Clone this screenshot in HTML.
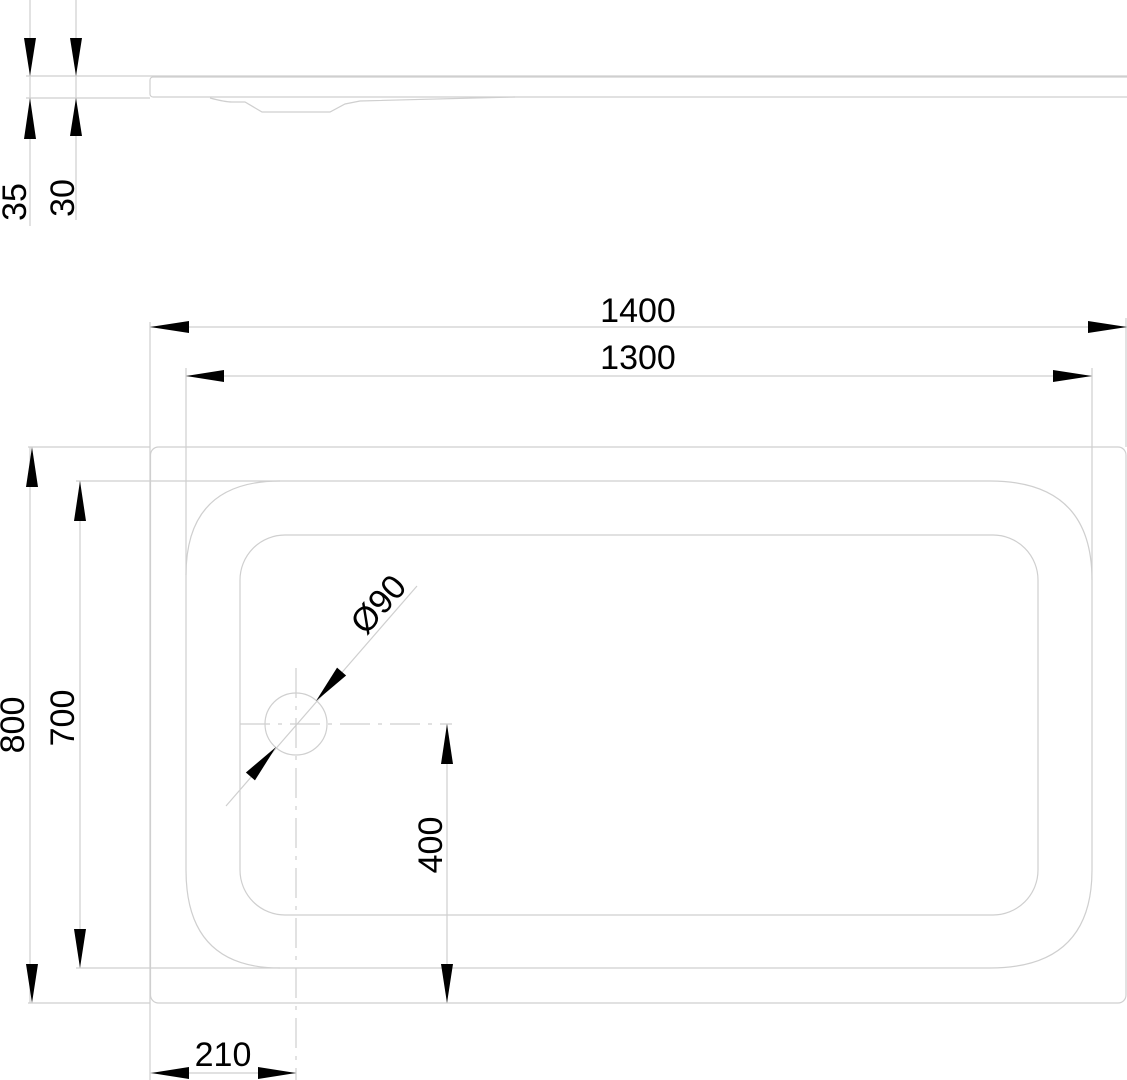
<!DOCTYPE html>
<html><head><meta charset="utf-8"><style>
html,body{margin:0;padding:0;background:#fff;}
svg{display:block;}
text{font-family:"Liberation Sans",sans-serif;font-size:34px;fill:#000;}
</style></head><body>
<svg width="1127" height="1080" viewBox="0 0 1127 1080" xmlns="http://www.w3.org/2000/svg">
<g fill="none" stroke="#cfcfcf" stroke-width="1.2">
  <line x1="26" y1="76" x2="1127" y2="76"/>
  <line x1="26" y1="98" x2="150" y2="98"/>
  <rect x="150" y="77" width="990" height="20" rx="3"/>
  <path d="M210 98 Q225 102 232 102 L245 102 L262 112 L330 112 L345 104 L360 101 L515 97"/>
  <line x1="30" y1="0" x2="30" y2="226"/>
  <line x1="76" y1="0" x2="76" y2="220"/>
  <rect x="150.5" y="447" width="975.5" height="556" rx="8"/>
  <line x1="28" y1="447" x2="150" y2="447"/>
  <line x1="28" y1="1003" x2="150" y2="1003"/>
  <line x1="76" y1="481" x2="280" y2="481"/>
  <line x1="76" y1="968" x2="280" y2="968"/>
  <path d="M280 481 L990 481 Q1092 481 1092 580 L1092 870 Q1092 968 990 968 L280 968 Q186 968 186 870 L186 575 Q186 481 280 481 Z"/>
  <rect x="240" y="535" width="798" height="380" rx="45"/>
  <line x1="150" y1="322" x2="150" y2="1080"/>
  <line x1="186" y1="368" x2="186" y2="575"/>
  <line x1="1126" y1="318" x2="1126" y2="447"/>
  <line x1="1092" y1="368" x2="1092" y2="580"/>
  <line x1="150" y1="327" x2="1127" y2="327"/>
  <line x1="186" y1="376" x2="1092" y2="376"/>
  <line x1="30" y1="447" x2="30" y2="1003"/>
  <line x1="80" y1="481" x2="80" y2="968"/>
  <circle cx="296" cy="724" r="31"/>
  <line x1="240" y1="724" x2="452" y2="724" stroke-dasharray="30 8 4 8"/>
  <line x1="296" y1="668" x2="296" y2="1080" stroke-dasharray="30 8 4 8"/>
  <line x1="226" y1="806" x2="417" y2="586"/>
  <line x1="447" y1="724" x2="447" y2="1003"/>
  <line x1="150" y1="1073" x2="296" y2="1073"/>
</g>
<g fill="#000" stroke="none">
  <polygon points="30,76 24,38 36,38"/>
  <polygon points="30,98 24,139 36,139"/>
  <polygon points="76,76 70,38 82,38"/>
  <polygon points="76,98 70,136 82,136"/>
  <polygon points="150,327 189,321 189,333"/>
  <polygon points="1127,327 1088,321 1088,333"/>
  <polygon points="186,376 224,370 224,382"/>
  <polygon points="1092,376 1053,370 1053,382"/>
  <polygon points="32,447 26,487 38,487"/>
  <polygon points="32,1003 26,964 38,964"/>
  <polygon points="80,481 74,521 86,521"/>
  <polygon points="80,968 74,929 86,929"/>
  <polygon points="447,724 441,764 453,764"/>
  <polygon points="447,1003 441,964 453,964"/>
  <polygon points="151,1073 189,1067 189,1079"/>
  <polygon points="296,1073 258,1067 258,1079"/>
  <g transform="translate(316,701) rotate(-49)">
    <polygon points="0,0 39,-6 39,6"/>
  </g>
  <g transform="translate(276,747) rotate(131)">
    <polygon points="0,0 39,-6 39,6"/>
  </g>
</g>
<text x="14" y="202" text-anchor="middle" transform="rotate(-90 14 202)" dy="12">35</text>
<text x="62" y="198" text-anchor="middle" transform="rotate(-90 62 198)" dy="12">30</text>
<text x="638" y="322" text-anchor="middle">1400</text>
<text x="638" y="369" text-anchor="middle">1300</text>
<text x="12" y="725" text-anchor="middle" transform="rotate(-90 12 725)" dy="12">800</text>
<text x="62" y="718" text-anchor="middle" transform="rotate(-90 62 718)" dy="12">700</text>
<text x="430" y="845" text-anchor="middle" transform="rotate(-90 430 845)" dy="12">400</text>
<text x="223" y="1066" text-anchor="middle">210</text>
<text x="378" y="604" text-anchor="middle" transform="rotate(-49 378 604)" dy="12">Ø90</text>
</svg>
</body></html>
